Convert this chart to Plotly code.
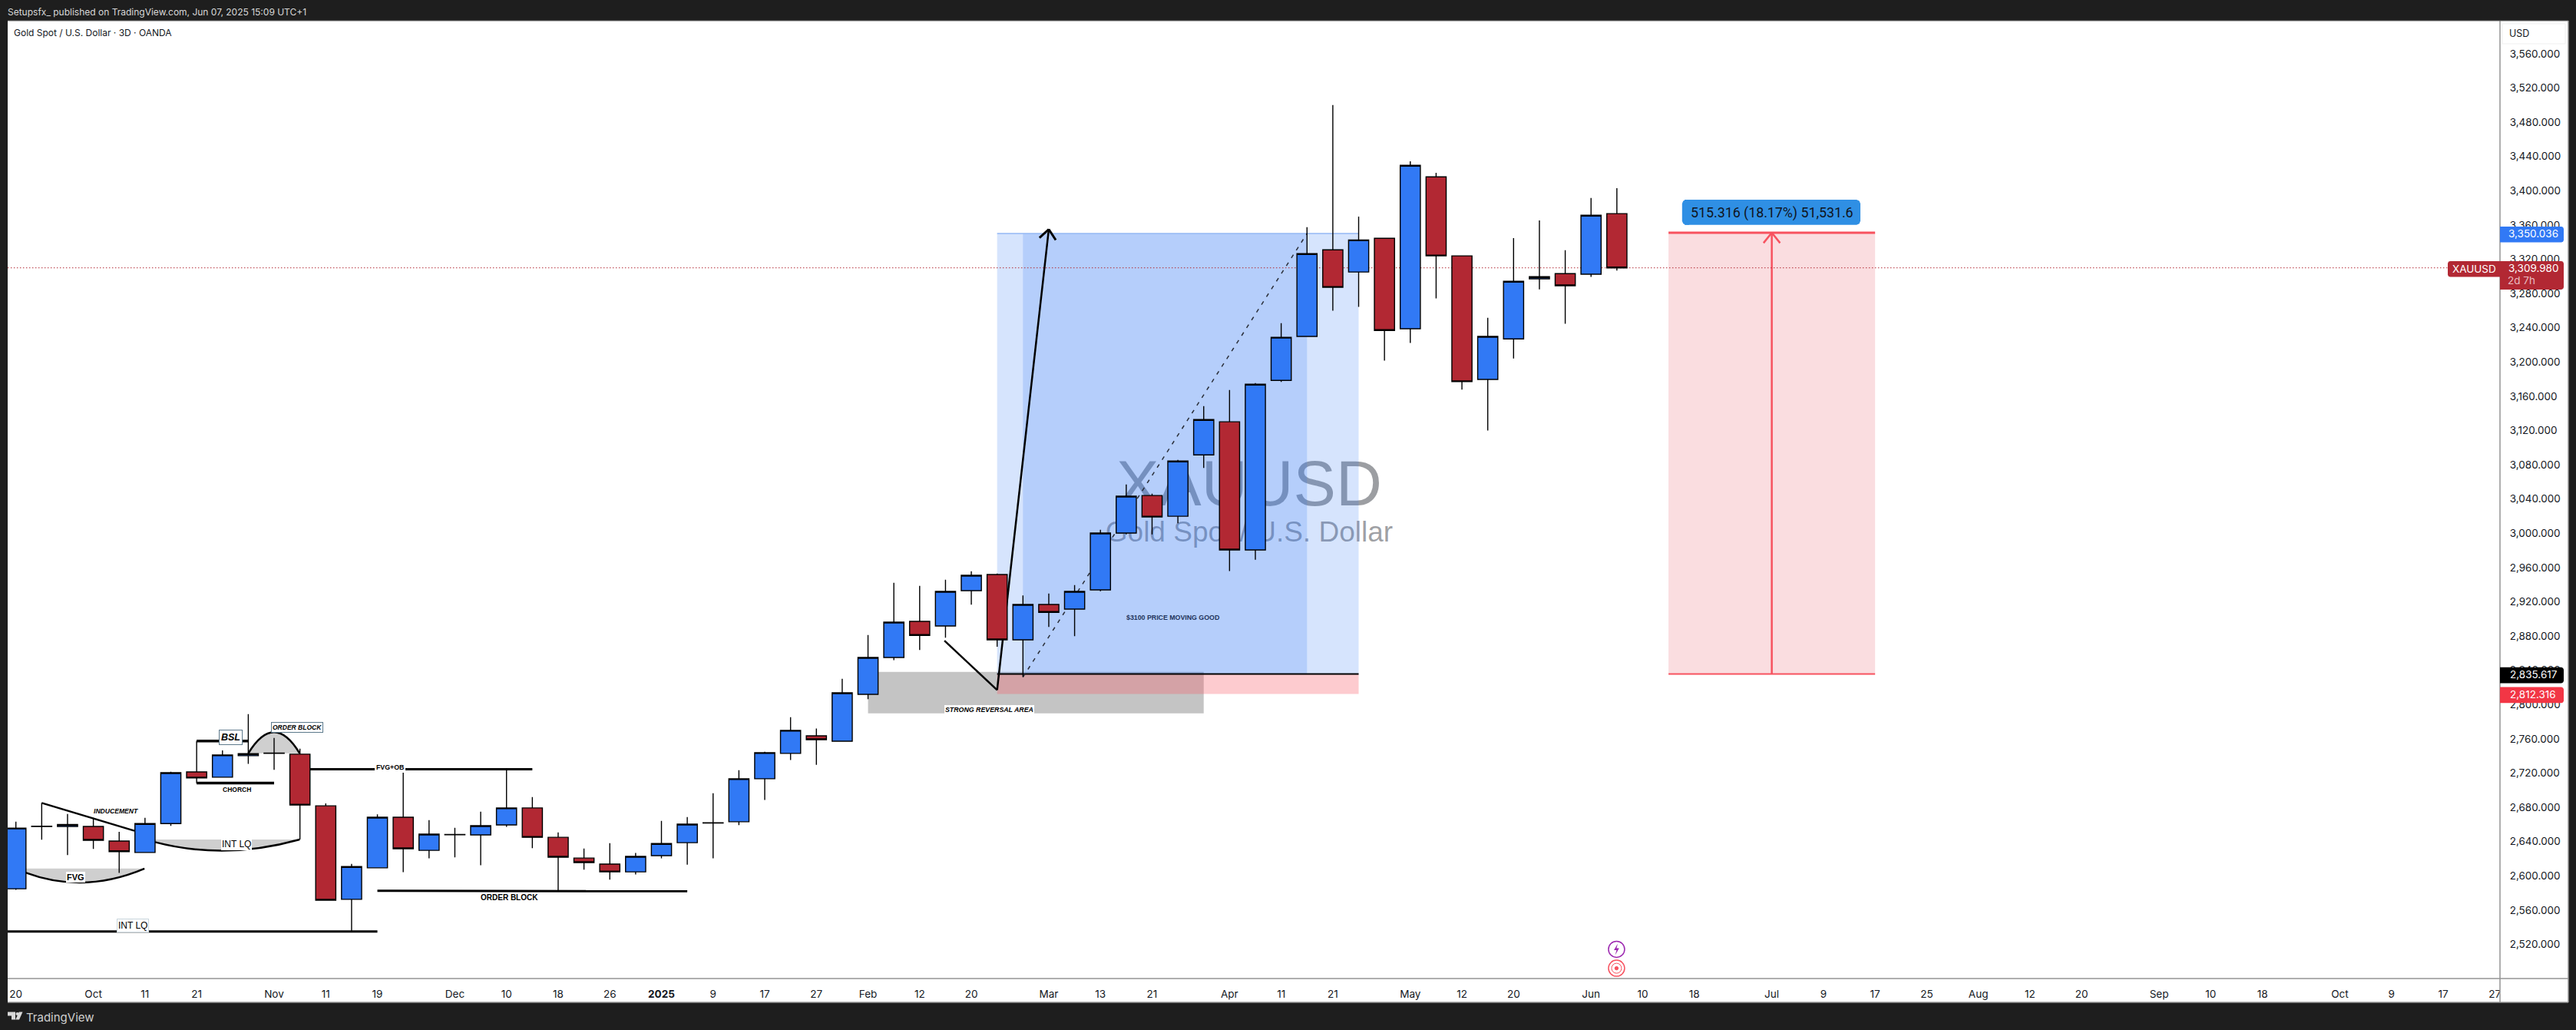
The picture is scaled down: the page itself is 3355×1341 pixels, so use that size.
import plotly.graph_objects as go

# ---------- data ----------
bar_index = list(range(63))
opens = [2584.8,2657.6,2657.6,2657.6,2640.5,2627.2,2661.0,2721.3,2715.1,2740.2,2743.3,2742.0,2681.7,2572.5,2609.3,2668.4,2629.7,2648.3,2647.7,2659.4,2679.2,2644.9,2620.7,2613.6,2604.6,2623.5,2638.7,2661.8,2663.1,2713.3,2742.9,2763.5,2757.2,2811.9,2854.9,2897.1,2891.7,2933.0,2951.8,2875.6,2916.8,2911.4,2933.9,3000.2,3044.1,3019.9,3091.5,3130.2,2980.5,3178.6,3229.9,3331.0,3305.1,3344.5,3238.8,3416.2,3324.0,3179.6,3227.0,3297.1,3303.2,3302.6,3373.3]
highs = [2663.1,2685.1,2672.1,2667.8,2651.4,2667.8,2721.6,2757.5,2746.4,2788.7,2760.9,2748.5,2684.5,2613.9,2671.8,2720.4,2665.0,2656.0,2674.9,2724.4,2691.9,2650.7,2631.9,2638.1,2626.6,2664.1,2668.7,2696.5,2723.4,2744.9,2785.3,2771.9,2830.1,2881.2,2942.2,2938.6,2945.8,2955.7,2953.0,2927.3,2929.7,2939.5,3004.1,3057.0,3046.2,3085.7,3148.4,3167.4,3175.3,3245.3,3357.4,3500.0,3369.9,3344.5,3434.5,3421.0,3324.0,3251.7,3344.8,3365.4,3330.5,3391.5,3403.1]
lows = [2583.6,2642.1,2624.1,2631.3,2603.4,2627.2,2658.2,2708.0,2715.1,2730.6,2723.8,2642.4,2571.5,2535.0,2609.3,2604.3,2620.4,2621.4,2612.4,2657.2,2632.2,2582.4,2607.1,2595.4,2601.5,2620.4,2613.0,2620.3,2659.1,2688.6,2735.1,2729.7,2757.2,2806.2,2851.7,2863.6,2878.0,2916.5,2867.5,2832.2,2890.5,2879.8,2932.4,2998.7,2998.7,3011.6,3076.2,2955.9,2969.1,3176.7,3229.9,3260.0,3264.5,3201.7,3222.2,3274.3,3167.7,3120.0,3204.2,3284.9,3244.6,3299.4,3306.7]
closes = [2655.7,2657.9,2660.0,2641.5,2628.2,2661.0,2720.4,2714.2,2741.1,2742.6,2743.0,2682.6,2571.5,2610.8,2668.4,2631.6,2648.6,2648.0,2658.5,2679.2,2644.9,2621.7,2615.5,2604.6,2622.6,2637.7,2660.3,2661.5,2713.3,2743.8,2769.8,2759.0,2813.7,2854.9,2896.2,2880.7,2932.1,2950.9,2875.6,2916.8,2907.6,2932.1,3000.2,3043.3,3019.0,3084.4,3132.8,2980.5,3174.1,3228.9,3326.5,3287.2,3342.6,3236.9,3429.7,3324.0,3177.1,3229.9,3294.3,3299.6,3289.1,3371.4,3309.98]

y_ticks = list(range(2520, 3600, 40))
x_tick_pos = [0,3,5,7,10,12,14,17,19,21,23,25,27,29,31,33,35,37,40,42,44,47,49,51,54,56,58,61,63,65,68,70,72,74,76,78,80,83,85,87,90,92,94,96]
x_tick_text = ["20","Oct","11","21","Nov","11","19","Dec","10","18","26","<b>2025</b>","9","17","27","Feb","12","20","Mar","13","21","Apr","11","21","May","12","20","Jun","10","18","Jul","9","17","25","Aug","12","20","Sep","10","18","Oct","9","17","27"]

take_profit = 3350.036
entry = 2835.617
stop = 2812.316
last_price = 3309.98
move_top = 3350.933

# ---------- page geometry ----------
W, H = 3355, 1341
PL, PR, PT, PB = 10, 3256, 27, 1274.4
PANEL_R, FRAME_B = 3345, 1305.5
X_RANGE = [-0.318, 96.2]
Y_RANGE = [2480.0, 3598.55]
DARK = "#1e1e1e"
BLUE = "#3179f5"
RED = "#b22833"
AXIS = "#949494"
TXT = "#131722"
UI = "Inter, sans-serif"
NARROW = "'Liberation Sans Narrow', 'Liberation Sans', sans-serif"


def fx(px):
    return (px - PL) / (PR - PL)


def fy(py):
    return 1 - (py - PT) / (PB - PT)


shapes = []


def rect(x0, y0, x1, y1, color, layer="below", line=None, lw=0):
    """Rectangle in data units."""
    shapes.append(dict(type="rect", xref="x", yref="y", x0=x0, x1=x1, y0=y0, y1=y1, fillcolor=color,
                       line=dict(width=lw, color=line or "rgba(0,0,0,0)"), layer=layer))


def seg(x0, y0, x1, y1, color="#000000", width=2.5, dash="solid", layer="below"):
    shapes.append(dict(type="line", xref="x", yref="y", x0=x0, x1=x1, y0=y0, y1=y1,
                       line=dict(color=color, width=width, dash=dash), layer=layer))


def curve(x0, y0, cx, cy, x1, y1, top, fill="#cfcfcf", width=2.5):
    """Grey swept area closed along a flat price level plus its black curve."""
    shapes.append(dict(type="path", xref="x", yref="y", layer="below", fillcolor=fill, line=dict(width=0),
                       path=f"M {x0} {top} L {x0} {y0} Q {cx} {cy} {x1} {y1} L {x1} {top} Z"))
    shapes.append(dict(type="path", xref="x", yref="y", layer="below", line=dict(color="#000000", width=width),
                       path=f"M {x0} {y0} Q {cx} {cy} {x1} {y1}"))


def pxrect(x0, y0, x1, y1, color, layer="below", line=None, lw=0):
    shapes.append(dict(type="rect", xref="paper", yref="paper", x0=fx(x0), x1=fx(x1), y0=fy(y0), y1=fy(y1),
                       fillcolor=color, line=dict(width=lw, color=line or "rgba(0,0,0,0)"), layer=layer))


def pxline(x0, y0, x1, y1, color=AXIS, width=1.5, layer="above"):
    shapes.append(dict(type="line", xref="paper", yref="paper", x0=fx(x0), x1=fx(x1), y0=fy(y0), y1=fy(y1),
                       line=dict(color=color, width=width), layer=layer))


def pxpath(points, color, closed=True, width=0, line=None, layer="above"):
    d = "M " + " L ".join(f"{fx(a):.6f} {fy(b):.6f}" for a, b in points) + (" Z" if closed else "")
    shapes.append(dict(type="path", xref="paper", yref="paper", path=d, layer=layer,
                       fillcolor=color if closed else "rgba(0,0,0,0)", line=dict(width=width, color=line or color)))


def pxcircle(cx, cy, r, color, width=1.5, fill="rgba(0,0,0,0)", layer="above"):
    shapes.append(dict(type="circle", xref="paper", yref="paper", x0=fx(cx - r), x1=fx(cx + r), y0=fy(cy + r), y1=fy(cy - r),
                       fillcolor=fill, line=dict(color=color, width=width), layer=layer))


def tag(x0, y0, x1, y1, color, r=3, side="right"):
    """Axis price tag with rounded outer corners."""
    if side == "right":
        pts = [(x0, y0), (x1 - r, y0), (x1 - r * .3, y0 + r * .3), (x1, y0 + r), (x1, y1 - r), (x1 - r * .3, y1 - r * .3), (x1 - r, y1), (x0, y1)]
    else:
        pts = [(x1, y0), (x0 + r, y0), (x0 + r * .3, y0 + r * .3), (x0, y0 + r), (x0, y1 - r), (x0 + r * .3, y1 - r * .3), (x0 + r, y1), (x1, y1)]
    pxpath(pts, color)


# frame backgrounds
pxrect(PR, PT, PANEL_R, FRAME_B, "#ffffff")
pxrect(PL, PB, PR, FRAME_B, "#ffffff")

# watermark, under every other mark
for text, size, p0, p1 in [("XAUUSD", 83, 3045, 3085), ("Gold Spot / U.S. Dollar", 37, 2995, 3015)]:
    shapes.append(dict(type="rect", xref="x", yref="y", x0=44.76, x1=50.76, y0=p0, y1=p1, layer="below",
                       fillcolor="rgba(0,0,0,0)", line=dict(width=0),
                       label=dict(text=text, textposition="middle center",
                                  font=dict(size=size, color="rgba(19,23,34,0.42)", family="Liberation Sans, Arial, sans-serif"))))

# analysis areas
rect(33, 2789.7, 46, 2838.2, "rgba(0,0,0,0.23)")
rect(38, entry, 52, take_profit, "rgba(51,122,245,0.20)")
rect(39, entry, 50, take_profit, "rgba(51,122,245,0.20)")
rect(38, stop, 52, entry, "rgba(247,82,95,0.30)")
seg(38, take_profit, 52, take_profit, "#94b8f5", 1.5)
seg(38, entry, 52, entry, "#000000", 2)
seg(39, 2832, 50.0, take_profit, "#2a2e39", 1.5, "5px,7px")

# price-range tool on the right
rect(64, entry, 72, move_top, "#fadde0")
seg(64, move_top, 72, move_top, "#f7525f", 3)
seg(64, entry, 72, entry, "#f7525f", 2)
seg(68, entry, 68, move_top, "#f7525f", 2.5)
seg(67.68, 3339, 68, move_top, "#f7525f", 2.5)
seg(68.32, 3339, 68, move_top, "#f7525f", 2.5)

# hand-drawn reversal arrow
seg(35.96, 2874.5, 38, 2817, "#000000", 2.5)
seg(38, 2817, 40, 3355, "#000000", 2.5)
seg(39.64, 3345, 40, 3355, "#000000", 3)
seg(40.27, 3342.5, 40, 3355, "#000000", 3)

# left-hand study lines
seg(-0.32, 2535, 14, 2535, "#000000", 3)
seg(14, 2582.4, 26, 2582.0, "#000000", 3)
seg(1, 2685.1, 4.59, 2652.6, "#000000", 2.5)
seg(7, 2757.5, 9, 2757.5, "#000000", 3.5)
seg(7, 2708.3, 10, 2708.3, "#000000", 3.5)
seg(11.4, 2724.4, 20, 2724.4, "#000000", 3)
curve(0.375, 2603.7, 2.63, 2578.4, 4.98, 2608.4, 2608.4)
curve(5.39, 2639.3, 8.09, 2617.9, 10.99, 2642.4, 2642.4)
curve(9.0, 2743, 10.0, 2792.5, 10.99, 2743, 2743)

# current price line
seg(-0.32, last_price, 96.2, last_price, RED, 1, "1.5px,2.5px")

# event marks
pxcircle(2105.4, 1236.3, 10.5, "#9c27b0", 1.5)
pxpath([(2107, 1229), (2102, 1237.5), (2105.4, 1237.5), (2103.6, 1244), (2108.8, 1235), (2105.4, 1235)], "#9c27b0")
pxcircle(2105.4, 1261, 10.5, "#f7525f", 1.5)
pxcircle(2105.4, 1261, 6.5, "#f7525f", 1)
pxcircle(2105.4, 1261, 2.2, "#f7525f", 1, "#f7525f")

# clip the last time label and draw the frame lines
pxrect(PR, PB + 1, PANEL_R, FRAME_B, "#ffffff", layer="above")
pxline(PR, PT, PR, FRAME_B)
pxline(PL, PB, PANEL_R, PB)
pxline(PL, PT, PANEL_R, PT, "#6e6e6e", 1)
pxline(PL, FRAME_B, PANEL_R, FRAME_B)
pxline(PANEL_R, PT, PANEL_R, FRAME_B)

# USD box and axis tags
shapes.append(dict(type="rect", xref="paper", yref="paper", x0=fx(3259), x1=fx(3341), y0=fy(57), y1=fy(31),
                   fillcolor="#ffffff", line=dict(color="#f0f0f0", width=1), layer="above"))
tag(3256, 295, 3339, 315.7, BLUE)
tag(3188, 340, 3256, 360.7, RED, side="left")
tag(3256, 340, 3339, 377, RED)
tag(3256, 869, 3339, 889.7, "#000000")
tag(3256, 894.9, 3339, 915.6, "#f23645")

# range tool label
tag(2194, 260, 2423, 292.9, "#2f8fe4", r=5)
tag(2190.8, 260, 2200, 292.9, "#2f8fe4", r=5, side="left")

# TradingView logo
pxpath([(10, 1318), (20, 1318), (20, 1328), (15, 1328), (15, 1323), (10, 1323)], "#d8d8d8")
pxcircle(22.6, 1320.4, 2.1, "#d8d8d8", 0, "#d8d8d8")
pxpath([(29.5, 1318), (25, 1328), (20.2, 1328), (24.8, 1318)], "#d8d8d8")

annotations = []


def note(text, x, p, size=10.5, bold=True, italic=False, bg=None, border=None, color="#000000", family=NARROW, pad=1):
    s = text
    if bold:
        s = f"<b>{s}</b>"
    if italic:
        s = f"<i>{s}</i>"
    annotations.append(dict(text=s, x=x, y=p, xref="x", yref="y", showarrow=False, xanchor="center", yanchor="middle",
                            font=dict(size=size, color=color, family=family), bgcolor=bg or "rgba(0,0,0,0)",
                            bordercolor=border or "rgba(0,0,0,0)", borderwidth=1 if border else 0, borderpad=pad))


def page_text(text, px, py, size=13.5, color=TXT, anchor="center", family=UI):
    annotations.append(dict(text=text, x=fx(px), y=fy(py), xref="paper", yref="paper", showarrow=False, xanchor=anchor, yanchor="middle",
                            font=dict(size=size, color=color, family=family), borderpad=0, borderwidth=0))


note("FVG", 2.32, 2598.5, 11, bg="#ffffff")
note("INT LQ", 8.55, 2636.8, 12, bold=False, bg="#ffffff")
note("INT LQ", 4.54, 2541.8, 12, bold=False, bg="#ffffff", border="#c9d6dd")
note("INDUCEMENT", 3.86, 2675.8, 8.6, italic=True)
note("CHORCH", 8.55, 2700.9, 8.5)
note("BSL", 8.33, 2761.5, 12.5, italic=True, bg="#ffffff", border="#5d7a8c", pad=2)
note("ORDER BLOCK", 10.9, 2773, 8.5, italic=True, bg="#ffffff", border="#5d7a8c", pad=1)
note("FVG+OB", 14.5, 2726.9, 8.8, bg="#ffffff", pad=2)
note("ORDER BLOCK", 19.12, 2574.5, 10)
note("STRONG REVERSAL AREA", 37.7, 2794.3, 8.8, italic=True, bg="#ffffff")
note("$3100 PRICE MOVING GOOD", 44.8, 2901.7, 8.8, color="#23345c")
note("515.316 (18.17%) 51,531.6", 68, 3374.5, 17.8, bold=False, color="#10141c", family="Roboto, sans-serif")

page_text("Setupsfx_ published on TradingView.com, Jun 07, 2025 15:09 UTC+1", 10, 15.7, 12, "#d8d8d8", "left")
page_text("Gold Spot / U.S. Dollar · 3D · OANDA", 18, 42.7, 12, TXT, "left")
page_text("TradingView", 33.5, 1325, 15, "#cfcfcf", "left")
page_text("USD", 3268, 43.5, 12.5, TXT, "left")
page_text("3,350.036", 3299.5, 304.5, 13.5, "#ffffff")
page_text("XAUUSD", 3222, 350, 13.5, "#ffffff")
page_text("3,309.980", 3299.5, 349.3, 13.5, "#ffffff")
page_text("2d 7h", 3265.7, 365.3, 13.5, "#e9bcc0", "left")
page_text("2,835.617", 3299.5, 878.7, 13.5, "#ffffff")
page_text("2,812.316", 3299.5, 904.7, 13.5, "#ffffff")

fig = go.Figure(go.Candlestick(
    x=bar_index, open=opens, high=highs, low=lows, close=closes,
    increasing=dict(fillcolor=BLUE, line=dict(color="#000000", width=1.4)),
    decreasing=dict(fillcolor=RED, line=dict(color="#000000", width=1.4)),
    whiskerwidth=0, hoverinfo="skip", showlegend=False,
))

fig.update_layout(
    width=W, height=H, autosize=False,
    margin=dict(l=PL, r=W - PR, t=PT, b=H - PB, pad=0),
    paper_bgcolor=DARK, plot_bgcolor="#ffffff",
    boxgap=0.22, boxgroupgap=0, showlegend=False, hovermode=False,
    shapes=shapes, annotations=annotations,
    xaxis=dict(range=X_RANGE, rangeslider=dict(visible=False), showgrid=False, zeroline=False, showline=False,
               tickmode="array", tickvals=x_tick_pos, ticktext=x_tick_text,
               ticks="outside", ticklen=8, tickcolor="rgba(0,0,0,0)",
               tickfont=dict(family=UI, size=13.5, color=TXT), tickangle=0),
    yaxis=dict(range=Y_RANGE, side="right", showgrid=False, zeroline=False, showline=False,
               tickmode="array", tickvals=y_ticks, ticktext=[f"{v:,.3f}" for v in y_ticks],
               ticks="outside", ticklen=9, tickcolor="rgba(0,0,0,0)",
               tickfont=dict(family=UI, size=13.5, color=TXT)),
)

fig.write_html("out.html", config=dict(displayModeBar=False),
               post_script="document.body.style.margin='0';document.documentElement.style.overflow='hidden';document.body.style.background='#1e1e1e';")
